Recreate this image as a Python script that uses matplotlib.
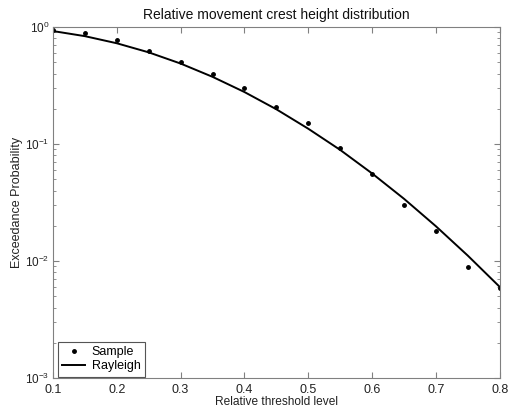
import matplotlib
matplotlib.use("Agg")
import matplotlib.pyplot as plt
from matplotlib.ticker import LogLocator, NullFormatter

plt.rcParams['font.family'] = ['Liberation Sans', 'DejaVu Sans']
plt.rcParams['mathtext.fontset'] = 'custom'
plt.rcParams['mathtext.rm'] = 'Liberation Sans'
plt.rcParams['mathtext.it'] = 'Liberation Sans'

sample_x = [0.1, 0.15, 0.2, 0.25, 0.3, 0.35, 0.4, 0.45, 0.5, 0.55, 0.6, 0.65, 0.7, 0.75, 0.8]
sample_p = [0.94, 0.885, 0.77, 0.62, 0.50, 0.40, 0.30, 0.207, 0.151, 0.0925, 0.0555, 0.030, 0.018, 0.0089, 0.0059]

rayleigh_x = [0.1, 0.15, 0.2, 0.25, 0.3, 0.35, 0.4, 0.45, 0.5, 0.55, 0.6, 0.65, 0.7, 0.75, 0.8]
rayleigh_p = [0.923, 0.835, 0.726, 0.607, 0.487, 0.375, 0.278, 0.198, 0.135, 0.089, 0.056, 0.034, 0.0198, 0.0111, 0.0060]

x_ticks = [0.1, 0.2, 0.3, 0.4, 0.5, 0.6, 0.7, 0.8]
x_tick_labels = ['0.1', '0.2', '0.3', '0.4', '0.5', '0.6', '0.7', '0.8']

fig = plt.figure(figsize=(5.19, 4.12), dpi=100)
ax = fig.add_axes([0.102, 0.0825, 0.861, 0.852])

ax.semilogy(sample_x, sample_p, 'k.', markersize=5, label='Sample')
ax.semilogy(rayleigh_x, rayleigh_p, 'k-', linewidth=1.4, label='Rayleigh')

ax.set_xlim(0.1, 0.8)
ax.set_ylim(1e-3, 1)
ax.set_xticks(x_ticks)
ax.set_xticklabels(x_tick_labels)
ax.yaxis.set_major_locator(LogLocator(base=10, numticks=10))
ax.yaxis.set_minor_locator(LogLocator(base=10, subs=range(2, 10), numticks=10))
ax.yaxis.set_minor_formatter(NullFormatter())

for s in ax.spines.values():
    s.set_color('#808080')
    s.set_linewidth(0.8)
ax.tick_params(which='both', direction='in', top=True, right=True, colors='#808080',
               labelcolor='#222222', labelsize=9)
ax.tick_params(axis='y', labelsize=8.5, pad=2.5)
ax.tick_params(axis='x', pad=4.5)
ax.tick_params(which='major', length=4)
ax.tick_params(which='minor', length=2.5)

ax.set_title('Relative movement crest height distribution', fontsize=10, pad=6, color='#111111')
ax.set_xlabel('Relative threshold level', fontsize=8.6, labelpad=0, color='#222222')
ax.set_ylabel('Exceedance Probability', fontsize=9, color='#222222')
ax.yaxis.set_label_coords(-0.068, 0.5)

leg = ax.legend(loc='lower left', bbox_to_anchor=(5 / 447, 1.5 / 351), borderaxespad=0,
                fontsize=9, fancybox=False, framealpha=1,
                edgecolor='#555555', handlelength=1.85, handletextpad=0.5,
                borderpad=0.35, labelspacing=0.15)
leg.get_frame().set_linewidth(0.8)

fig.savefig('out.png', dpi=100)
